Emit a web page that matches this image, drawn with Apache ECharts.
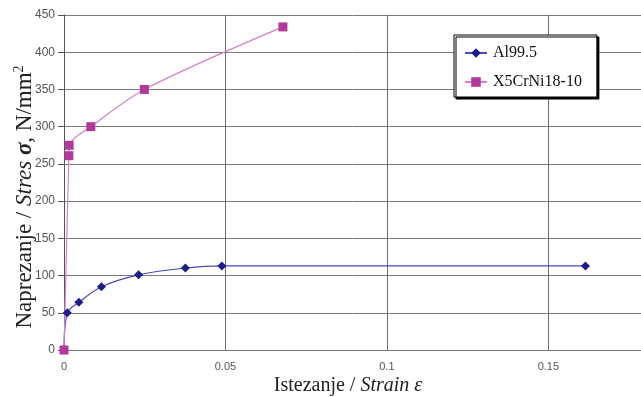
<!DOCTYPE html>
<html><head><meta charset="utf-8">
<script src="https://cdn.jsdelivr.net/npm/echarts@6/dist/echarts.min.js"></script>
<style>html,body{margin:0;padding:0;background:#fff}#c{width:641px;height:397px}</style>
</head><body><div id="c"></div>
<script>
// Al99.5 (strain, stress)
var alStrain = [0, 0.001, 0.0046, 0.0116, 0.0231, 0.0376, 0.0489, 0.1615];
var alStress = [0, 50, 64, 85, 101, 110, 113, 113];
// X5CrNi18-10 (strain, stress)
var crStrain = [0, 0.0015, 0.0016, 0.0083, 0.0249, 0.0678];
var crStress = [0, 261, 275, 300, 350, 434];
var yTicks = [0, 50, 100, 150, 200, 250, 300, 350, 400, 450];
var xTicks = [0, 0.05, 0.1, 0.15];
var seriesNames = ['Al99.5', 'X5CrNi18-10'];

function pairs(xs, ys){ return xs.map(function(x,i){ return [x, ys[i]]; }); }

var chart = echarts.init(document.getElementById('c'), null, {renderer:'canvas'});
var serif = '"Liberation Serif", "DejaVu Serif", serif';
chart.setOption({
  animation: false,
  backgroundColor: '#fff',
  grid: {left: 64, top: 15, right: 0, bottom: 47, containLabel: false, outerBoundsMode: 'none'},
  xAxis: {
    type: 'value', min: 0, max: 0.1787, interval: 0.05,
    axisLine: {show: true, lineStyle: {color: '#777', width: 1}},
    axisTick: {show: false},
    axisLabel: {color: '#555', fontFamily: '"Liberation Sans", Arial, sans-serif', fontSize: 11, margin: 11,
      showMaxLabel: false,
      formatter: function(v){ return xTicks.indexOf(+v.toFixed(2)) >= 0 && Math.abs(v - (+v.toFixed(2))) < 1e-9 ? String(+v.toFixed(2)) : ''; }},
    splitLine: {show: true, lineStyle: {color: '#6e6e6e', width: 1}}
  },
  yAxis: {
    type: 'value', min: yTicks[0], max: yTicks[yTicks.length-1], interval: 50,
    axisLine: {show: true, lineStyle: {color: '#555', width: 1}},
    axisTick: {show: true, inside: false, length: 6, lineStyle: {color: '#555'}},
    axisLabel: {color: '#555', fontFamily: '"Liberation Sans", Arial, sans-serif', fontSize: 12, margin: 9},
    splitLine: {show: true, lineStyle: {color: '#7a7a7a', width: 1}}
  },
  legend: {
    orient: 'vertical', left: 454, top: 35,
    padding: [10, 15, 7, 10], itemGap: 13, itemWidth: 22, itemHeight: 12,
    backgroundColor: '#fff', borderColor: '#000', borderWidth: 1,
    shadowColor: '#000', shadowBlur: 0.5, shadowOffsetX: 2, shadowOffsetY: 2,
    textStyle: {fontFamily: serif, fontSize: 16, color: '#111', padding: [0,0,0,1]},
    data: seriesNames
  },
  series: [
    {
      name: seriesNames[0], type: 'line', data: pairs(alStrain, alStress),
      smooth: 0.35, symbol: 'diamond', symbolSize: 9, showAllSymbol: true,
      lineStyle: {color: '#4a4ab8', width: 1.2},
      itemStyle: {color: '#1c1c8a'}
    },
    {
      name: seriesNames[1], type: 'line', data: pairs(crStrain, crStress),
      smooth: 0.3, symbol: 'rect', symbolSize: 9, showAllSymbol: true,
      lineStyle: {color: '#d67fc8', width: 1.2},
      itemStyle: {color: '#b03a9c'}
    }
  ],
  graphic: [
    {
      type: 'text', x: 348, y: 386,
      style: {
        x: 0, y: 0, align: 'center', verticalAlign: 'middle',
        rich: {
          n: {fontFamily: serif, fontSize: 20, fill: '#222'},
          i: {fontFamily: serif, fontSize: 20, fontStyle: 'italic', fill: '#222'}
        },
        text: '{n|Istezanje / }{i|Strain ε}'
      }
    },
    {
      type: 'text', x: 25, y: 197, rotation: Math.PI/2,
      style: {
        x: 0, y: 0, align: 'center', verticalAlign: 'middle',
        rich: {
          n: {fontFamily: serif, fontSize: 23, fill: '#222'},
          i: {fontFamily: serif, fontSize: 23, fontStyle: 'italic', fill: '#222'},
          b: {fontFamily: serif, fontSize: 23, fontStyle: 'italic', fontWeight: 'bold', fill: '#222'},
          s: {fontFamily: serif, fontSize: 14, fill: '#222', verticalAlign: 'top', padding: [0,0,11,0]}
        },
        text: '{n|Naprezanje / }{i|Stres }{b|σ}{n|, N/mm}{s|2}'
      }
    }
  ]
});
</script></body></html>
